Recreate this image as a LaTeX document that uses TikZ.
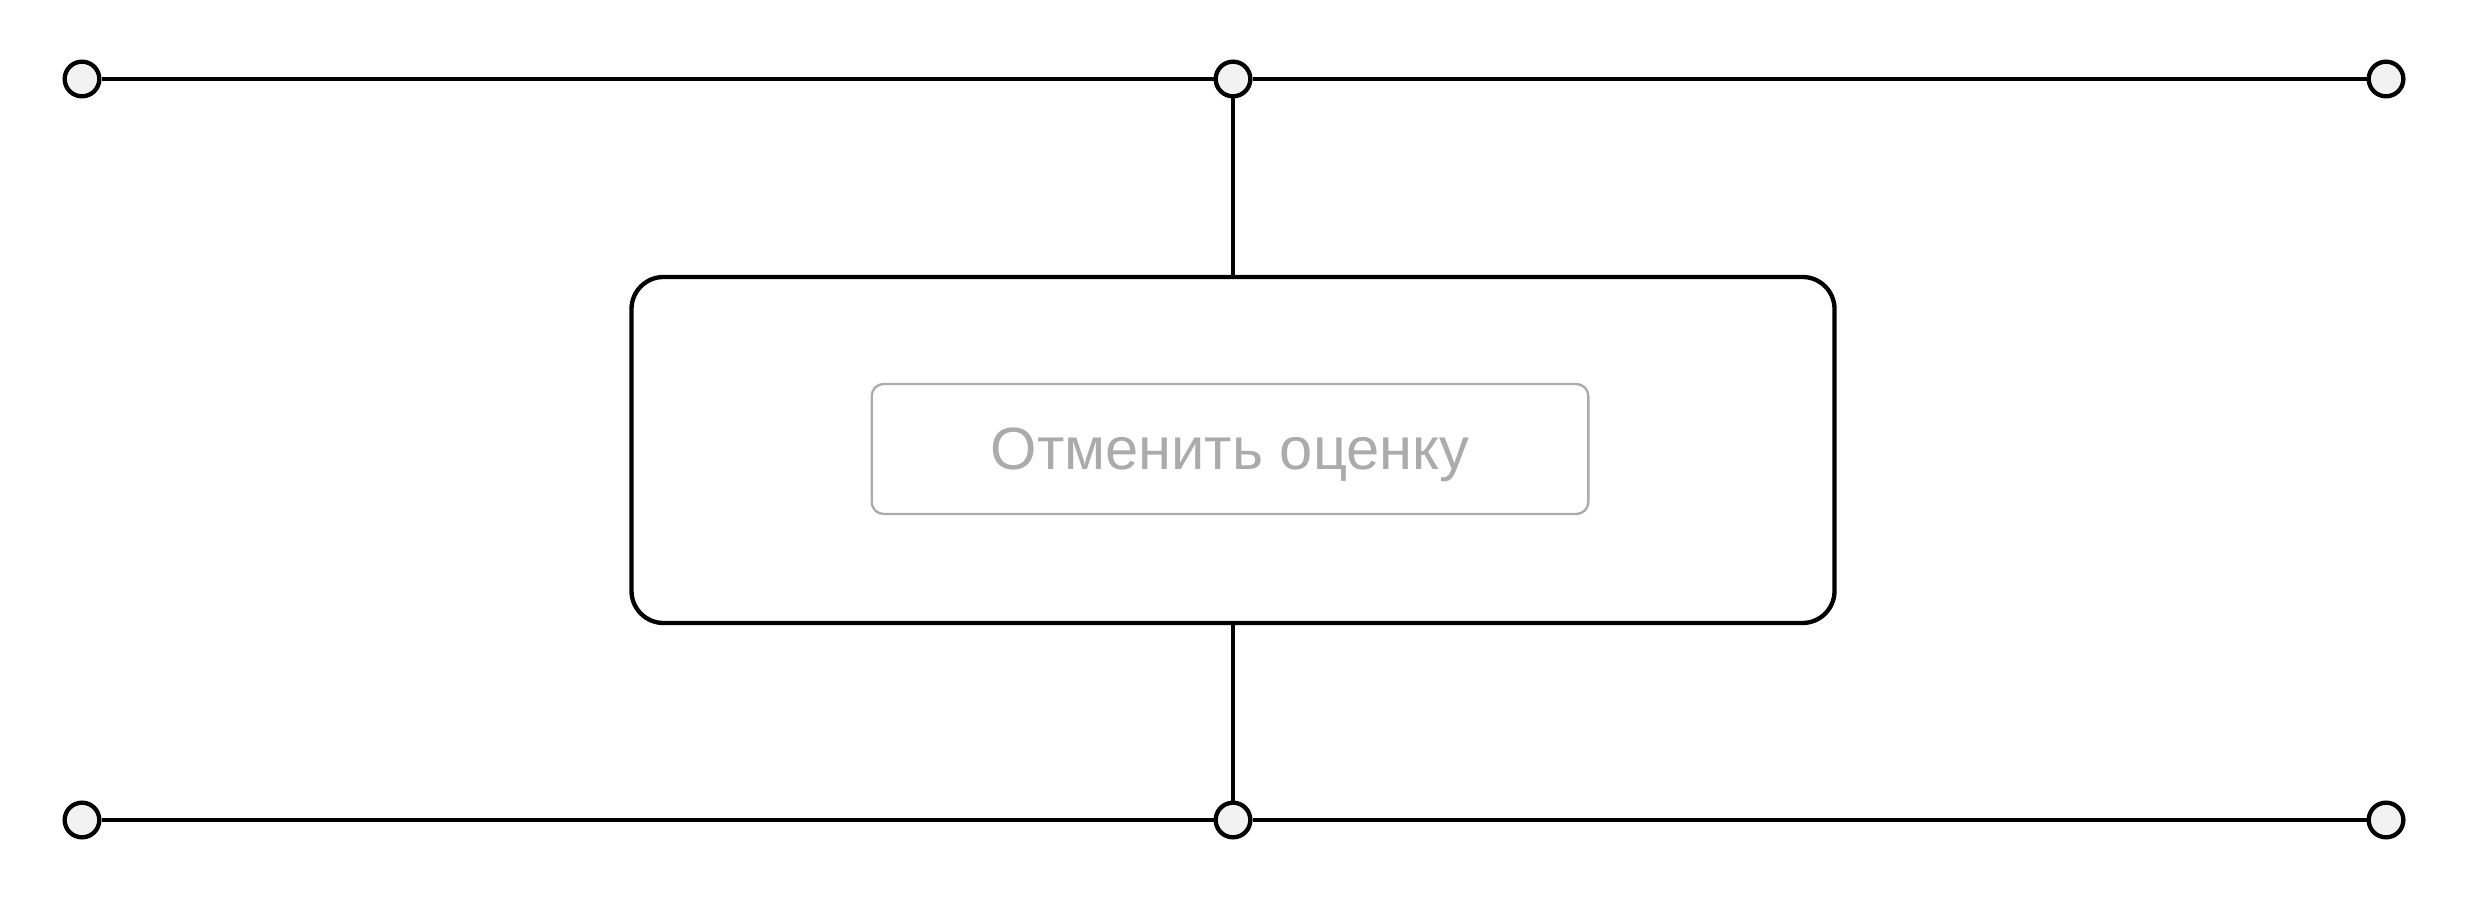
\documentclass[tikz,border=0pt]{standalone}
\usepackage{fontspec}
\setmainfont{Liberation Sans}
\usetikzlibrary{positioning}

\definecolor{dotfill}{HTML}{F2F2F2}
\definecolor{btngray}{HTML}{ABABAB}

\tikzset{
  joint/.style={circle,draw=black,fill=dotfill,line width=1.3pt,minimum size=10.4pt,inner sep=0pt},
  wire/.style={black,line width=1.3pt},
  panel/.style={draw=black,line width=1.3pt,rounded corners=9.6pt,minimum width=360.9pt,minimum height=103.8pt,inner sep=0pt},
  button/.style={draw=btngray,line width=0.7pt,rounded corners=3.6pt,minimum width=215pt,minimum height=39pt,inner sep=0pt,
    text=btngray,text depth=0pt,font=\fontsize{17.9}{20}\selectfont}
}

\begin{document}
\begin{tikzpicture}[x=0.3pt,y=-0.3pt]
\useasboundingbox (0,0) rectangle (2466,900);
\node[joint] (tl) at (82,79) {};
\node[joint] (tm) at (1233,79) {};
\node[joint] (tr) at (2386,79) {};
\node[joint] (bl) at (82,820) {};
\node[joint] (bm) at (1233,820) {};
\node[joint] (br) at (2386,820) {};
\node[panel] (card) at (1233,450) {};
\node[button] (undo) at (1230,449) {Отменить оценку};
\draw[wire] (tl) -- (tm);
\draw[wire] (tm) -- (tr);
\draw[wire] (tm) -- (card.north);
\draw[wire] (card.south) -- (bm);
\draw[wire] (bl) -- (bm);
\draw[wire] (bm) -- (br);
\end{tikzpicture}
\end{document}
